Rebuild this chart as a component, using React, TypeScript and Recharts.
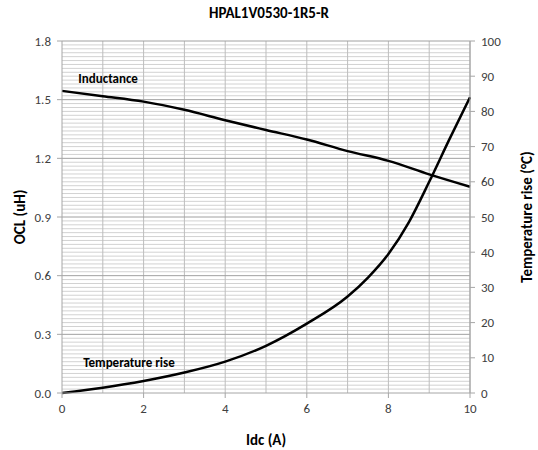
import React from 'react';
import { LineChart, Line, XAxis, YAxis, ReferenceLine, ReferenceDot, Label } from 'recharts';

const idcL = [0, 1, 2, 3, 4, 5, 6, 7, 8, 9, 10];
const inductance = [1.545, 1.518, 1.49, 1.448, 1.395, 1.345, 1.296, 1.237, 1.187, 1.118, 1.055];
const idcT = [0, 1, 2, 3, 4, 5, 6, 7, 7.5, 8, 8.5, 9, 9.5, 10];
const tempRise = [0, 1.5, 3.4, 5.8, 8.9, 13.4, 19.7, 27.4, 32.8, 39.5, 48.5, 60, 72.2, 84];

const xTicks = [0, 2, 4, 6, 8, 10];
const leftTicks = [0, 0.3, 0.6, 0.9, 1.2, 1.5, 1.8];
const rightTicks = [0, 10, 20, 30, 40, 50, 60, 70, 80, 90, 100];
const verticalGrid = [1, 2, 3, 4, 5, 6, 7, 8, 9];
const minorGrid: number[] = [];
for (let i = 1; i < 90; i++) if (i % 15 !== 0) minorGrid.push(+(i * 0.02).toFixed(2));
const majorGrid = [0.3, 0.6, 0.9, 1.2, 1.5, 1.8];

const dataL = idcL.map((x, i) => ({ x, l: inductance[i] }));
const dataT = idcT.map((x, i) => ({ x, t: tempRise[i] }));

const FONT = "Carlito, 'Liberation Sans Narrow', 'Open Sans', sans-serif";
const tickStyle = { fontFamily: FONT, fontSize: 13, fill: '#404040' };

export default function App() {
  return (
    <div style={{ position: 'absolute', left: 0, top: 0, width: 538, height: 450, background: '#fff' }}>
      <div style={{ position: 'absolute', left: 0, top: 4, width: 538, textAlign: 'center', fontFamily: FONT, fontWeight: 'bold', fontSize: 15, color: '#000' }}>
        HPAL1V0530-1R5-R
      </div>
      <LineChart width={538} height={450} margin={{ top: 41, right: 0, left: 0, bottom: 0 }}>
        <XAxis
          dataKey="x"
          type="number"
          domain={[0, 10]}
          ticks={xTicks}
          height={57}
          stroke="#a6a6a6"
          tick={tickStyle}
          tickSize={5}
          tickMargin={6}
          allowDuplicatedCategory={false}
        >
          <Label value="Idc (A)" position="insideBottom" offset={5} style={{ fontFamily: FONT, fontWeight: 'bold', fontSize: 15, fill: '#000' }} />
        </XAxis>
        <YAxis
          yAxisId="left"
          domain={[0, 1.8]}
          ticks={leftTicks}
          width={62}
          stroke="#a6a6a6"
          tick={tickStyle}
          tickFormatter={(v: number) => v.toFixed(1)}
          tickSize={5}
          tickMargin={6}
        >
          <Label value="OCL (uH)" angle={-90} position="insideLeft" offset={20} style={{ fontFamily: FONT, fontWeight: 'bold', fontSize: 15, fill: '#000', textAnchor: 'middle' }} />
        </YAxis>
        <YAxis
          yAxisId="right"
          orientation="right"
          domain={[0, 100]}
          ticks={rightTicks}
          width={68}
          stroke="#a6a6a6"
          tick={tickStyle}
          tickSize={5}
          tickMargin={6}
        >
          <Label value="Temperature rise (°C)" angle={-90} position="insideRight" offset={11} style={{ fontFamily: FONT, fontWeight: 'bold', fontSize: 15, fill: '#000', textAnchor: 'middle' }} />
        </YAxis>
        {minorGrid.map((v) => (
          <ReferenceLine key={'m' + v} yAxisId="left" y={v} stroke="#d2d2d2" strokeWidth={1} ifOverflow="visible" />
        ))}
        {verticalGrid.map((v) => (
          <ReferenceLine key={'v' + v} yAxisId="left" x={v} stroke="#bdbdbd" strokeWidth={1} />
        ))}
        {majorGrid.map((v) => (
          <ReferenceLine key={'M' + v} yAxisId="left" y={v} stroke="#a0a0a0" strokeWidth={1} ifOverflow="visible" />
        ))}
        <ReferenceLine yAxisId="left" x={10} stroke="#a6a6a6" strokeWidth={1} />
        <Line yAxisId="left" data={dataL} dataKey="l" type="monotone" stroke="#000" strokeWidth={2.5} dot={false} isAnimationActive={false} />
        <Line yAxisId="right" data={dataT} dataKey="t" type="monotone" stroke="#000" strokeWidth={2.5} dot={false} isAnimationActive={false} />
        <ReferenceDot yAxisId="left" x={0.4} y={1.61} r={0} fill="none" stroke="none" ifOverflow="visible">
          <Label value="Inductance" position="right" offset={0} style={{ fontFamily: FONT, fontWeight: 'bold', fontSize: 13, fill: '#000' }} />
        </ReferenceDot>
        <ReferenceDot yAxisId="left" x={0.52} y={0.158} r={0} fill="none" stroke="none" ifOverflow="visible">
          <Label value="Temperature rise" position="right" offset={0} style={{ fontFamily: FONT, fontWeight: 'bold', fontSize: 13, fill: '#000' }} />
        </ReferenceDot>
      </LineChart>
    </div>
  );
}
